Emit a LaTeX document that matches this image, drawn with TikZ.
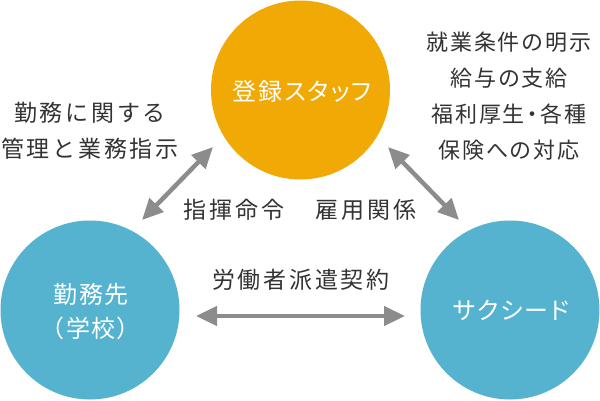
\documentclass[tikz,border=0pt]{standalone}
\usepackage{fontspec}
\setmainfont{Noto Sans CJK JP}
\newfontfamily\jpfont[LetterSpace=12]{Noto Sans CJK JP}
\newfontfamily\jpterms[LetterSpace=9]{Noto Sans CJK JP}
\newfontfamily\jpwhite[LetterSpace=8,RawFeature=+palt]{Noto Sans CJK JP}
\usetikzlibrary{arrows.meta}
\definecolor{orangec}{HTML}{F1A906}
\definecolor{bluec}{HTML}{55B3D0}
\definecolor{textgray}{HTML}{333333}
\definecolor{arrowgray}{HTML}{8C8C8C}
\tikzset{
  party/.style={circle, inner sep=0pt, minimum size=179pt},
  wlbl/.style={text=white, inner sep=0pt, align=center,
    font={\jpwhite\fontsize{24}{34}\selectfont}},
  lbl/.style={text=textgray, align=center, inner sep=0pt,
    font={\jpfont\fontsize{23}{36}\selectfont}},
  lblsmall/.style={text=textgray, align=center, inner sep=0pt,
    font={\jpterms\fontsize{22}{36}\selectfont}},
  rel/.style={draw=arrowgray, line width=4.5pt, {Triangle[length=21pt,width=19pt]}-{Triangle[length=21pt,width=19pt]}}
}
\begin{document}
\begin{tikzpicture}[x=1pt,y=-1pt]
\useasboundingbox (0,0) rectangle (600,400);
\node[party, fill=orangec] (staff) at (300.5,90) {};
\node[wlbl] (stafflbl) at (302,91) {登録スタッフ};
\node[party, fill=bluec] (school) at (90,310) {};
\node[wlbl] (schoollbl) at (91,312) {勤務先\\（学校）};
\node[party, fill=bluec] (saku) at (510,310) {};
\node[wlbl] (sakulbl) at (511,310) {サクシード};
\node[lbl] (mgmt) at (90,131) {勤務に関する\\管理と業務指示};
\node[lblsmall] (terms) at (509,96) {就業条件の明示\\給与の支給\\福利厚生\kern-3pt・\kern-3pt 各種\\保険への対応};
\node[lbl] (cmd) at (234,210) {指揮命令};
\node[lbl] (emp) at (366,210) {雇用関係};
\node[lbl] (contract) at (301,280) {労働者派遣契約};
\coordinate (lt) at (213,147);
\coordinate (lb) at (142,220);
\coordinate (rt) at (388,147);
\coordinate (rb) at (459,220);
\coordinate (hl) at (196,316);
\coordinate (hr) at (405,316);
\draw[rel] (lt) -- (lb);
\draw[rel] (rt) -- (rb);
\draw[rel] (hl) -- (hr);
\end{tikzpicture}
\end{document}
